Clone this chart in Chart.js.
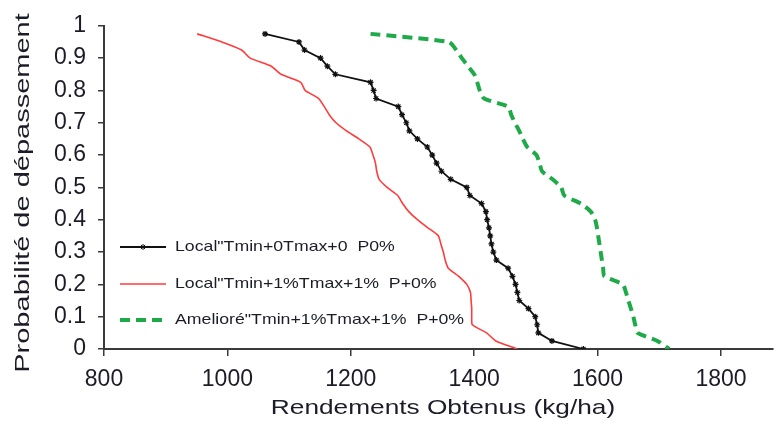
<!DOCTYPE html>
<html>
<head>
<meta charset="utf-8">
<script src="https://cdn.jsdelivr.net/npm/chart.js@4.4.0/dist/chart.umd.min.js"></script>
<style>
	html, body { margin: 0; padding: 0; background: #fff; }
</style>
</head>
<body>
<canvas id="myChart" width="778" height="423"></canvas>
<script>
/* probabilité de dépassement (axe y) */
var probs = [0.975, 0.95, 0.925, 0.9, 0.875, 0.85, 0.825, 0.8, 0.775, 0.75,
	0.725, 0.7, 0.675, 0.65, 0.625, 0.6, 0.575, 0.55, 0.525, 0.5,
	0.475, 0.45, 0.425, 0.4, 0.375, 0.35, 0.325, 0.3, 0.275, 0.25,
	0.225, 0.2, 0.175, 0.15, 0.125, 0.1, 0.075, 0.05, 0.025, 0];

/* rendements (kg/ha) */
var yieldLocal = [1061, 1116, 1125, 1151, 1162, 1175, 1232, 1237, 1241, 1277,
	1283, 1290, 1295, 1308, 1324, 1332, 1339, 1347, 1362, 1388,
	1393, 1412, 1419, 1421, 1424, 1426, 1428, 1431, 1436, 1455,
	1462, 1467, 1470, 1473, 1488, 1499, 1502, 1504, 1526, 1577];

var yieldLocalClim = [951, 991, 1023, 1037, 1071, 1087, 1119, 1126, 1148, 1157,
	1165, 1176, 1193, 1213, 1231, 1236, 1240, 1242, 1246, 1259,
	1276, 1284, 1294, 1308, 1325, 1342, 1346, 1350, 1353, 1358,
	1375, 1388, 1394, 1395, 1396, 1396, 1397, 1420, 1435, 1470];

var yieldAmel = [1232, 1359, 1371, 1380, 1390, 1400, 1405, 1409, 1416, 1455,
	1460, 1466, 1473, 1479, 1486, 1501, 1506, 1510, 1527, 1541,
	1546, 1573, 1589, 1596, 1599, 1601, 1603, 1605, 1607, 1609,
	1611, 1641, 1646, 1650, 1654, 1658, 1661, 1665, 1697, 1716];

var seriesLabels = [
	'Local"Tmin+0Tmax+0  P0%',
	'Local"Tmin+1%Tmax+1%  P+0%',
	'Amelioré"Tmin+1%Tmax+1%  P+0%'
];

var xTicks = [800, 1000, 1200, 1400, 1600, 1800];

var xTitle = 'Rendements Obtenus (kg/ha)';
var yTitle = 'Probabilité de dépassement';

function toPoints(xs) {
	var pts = [];
	for (var i = 0; i < xs.length; i++) {
		pts.push({ x: xs[i], y: probs[i] });
	}
	return pts;
}

var axisColor = '#3a3a3a';
var textColor = '#1c1c28';
var colors = ['#111111', '#ff3b3b', '#1faa4a'];

// texte étiré horizontalement
function stretchText(ctx, text, x, y, font, sx, rot) {
	ctx.save();
	ctx.font = font;
	ctx.fillStyle = textColor;
	ctx.textBaseline = 'middle';
	ctx.textAlign = 'center';
	ctx.translate(x, y);
	if (rot) ctx.rotate(rot);
	ctx.scale(sx, 1);
	ctx.fillText(text, 0, 0);
	ctx.restore();
}

function drawStar(ctx, x, y, r) {
	ctx.beginPath();
	ctx.moveTo(x - r, y); ctx.lineTo(x + r, y);
	ctx.moveTo(x, y - r); ctx.lineTo(x, y + r);
	var d = r * 0.707;
	ctx.moveTo(x - d, y - d); ctx.lineTo(x + d, y + d);
	ctx.moveTo(x - d, y + d); ctx.lineTo(x + d, y - d);
	ctx.stroke();
}

const titlesPlugin = {
	id: 'titlesPlugin',
	afterDraw(chart) {
		const ctx = chart.ctx;
		// titres des axes
		stretchText(ctx, xTitle, 443, 408, '21px "Liberation Sans", Arial, sans-serif', 1.25, 0);
		stretchText(ctx, yTitle, 23, 193, '20px "Liberation Sans", Arial, sans-serif', 1.45, -Math.PI / 2);

		// légende
		var rows = [247, 284, 320];
		for (var i = 0; i < 3; i++) {
			var ds = chart.data.datasets[i];
			ctx.save();
			ctx.strokeStyle = ds.borderColor;
			ctx.lineWidth = ds.borderWidth;
			ctx.setLineDash(ds.borderDash || []);
			ctx.beginPath();
			ctx.moveTo(120, rows[i]);
			ctx.lineTo(166, rows[i]);
			ctx.stroke();
			ctx.setLineDash([]);
			if (i === 0) {
				ctx.lineWidth = 1;
				drawStar(ctx, 143, rows[i], 3);
			}
			ctx.restore();

			ctx.save();
			ctx.font = '15px "Liberation Sans", Arial, sans-serif';
			ctx.fillStyle = textColor;
			ctx.textBaseline = 'middle';
			ctx.translate(175, rows[i]);
			ctx.scale(1.18, 1);
			ctx.fillText(ds.label, 0, 0);
			ctx.restore();
		}
	}
};

var chartDataset = {
	datasets: [{
		label: seriesLabels[0],
		data: toPoints(yieldLocal),
		borderColor: colors[0],
		backgroundColor: colors[0],
		borderWidth: 1.8,
		pointStyle: 'star',
		pointRadius: 3,
		pointBorderWidth: 1.2,
		pointBorderColor: colors[0],
		tension: 0
	}, {
		label: seriesLabels[1],
		data: toPoints(yieldLocalClim),
		borderColor: colors[1],
		backgroundColor: colors[1],
		borderWidth: 1.6,
		pointRadius: 0,
		tension: 0.2
	}, {
		label: seriesLabels[2],
		data: toPoints(yieldAmel),
		borderColor: colors[2],
		backgroundColor: colors[2],
		borderWidth: 4,
		borderDash: [10, 6],
		pointRadius: 0,
		tension: 0.2
	}]
};

var chartOption = {
	responsive: false,
	animation: false,
	layout: {
		padding: { left: 0, right: 0, top: 20, bottom: 0 }
	},
	plugins: {
		legend: { display: false },
		tooltip: { enabled: false },
		title: { display: false }
	},
	scales: {
		x: {
			type: 'linear',
			min: 800,
			max: 1884,
			afterBuildTicks: function (scale) {
				scale.ticks = xTicks.map(function (v) { return { value: v }; });
			},
			afterFit: function (scale) {
				scale.height = 74;
			},
			ticks: {
				color: textColor,
				font: { size: 23, family: '"Liberation Sans", Arial, sans-serif' },
				padding: 10,
				maxRotation: 0,
				autoSkip: false,
				callback: function (v) { return String(v); }
			},
			grid: {
				display: true,
				drawOnChartArea: false,
				drawTicks: true,
				tickLength: 7,
				color: axisColor,
				lineWidth: 1.5
			},
			border: { display: true, color: axisColor, width: 2 }
		},
		y: {
			min: 0,
			max: 1,
			afterFit: function (scale) {
				scale.width = 104;
			},
			ticks: {
				stepSize: 0.1,
				color: textColor,
				font: { size: 23, family: '"Liberation Sans", Arial, sans-serif' },
				padding: 12,
				callback: function (v) { return String(+v.toFixed(1)); }
			},
			grid: {
				display: true,
				drawOnChartArea: false,
				drawTicks: true,
				tickLength: 6,
				color: axisColor,
				lineWidth: 1.5
			},
			border: { display: true, color: axisColor, width: 2 }
		}
	}
};

var ctx = document.getElementById('myChart');
var myChart = new Chart(ctx, {
	type: 'line',
	data: chartDataset,
	options: chartOption,
	plugins: [titlesPlugin]
});
</script>
</body>
</html>
